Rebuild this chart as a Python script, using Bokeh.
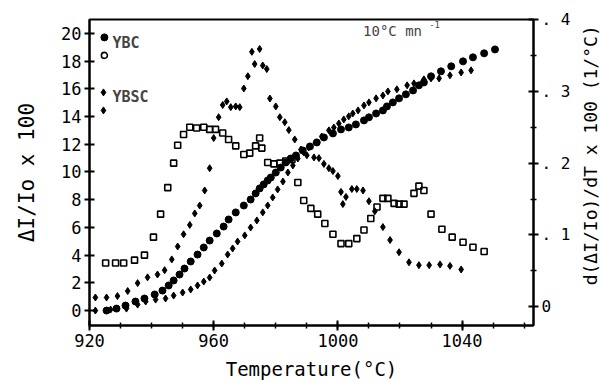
import math
from bokeh.plotting import figure
from bokeh.layouts import row
from bokeh.models import Range1d, LinearAxis, SingleIntervalTicker, FixedTicker, Label
from bokeh.core.properties import value
from bokeh.embed import file_html
from bokeh.resources import INLINE

# ---- data ----
# YBC: cumulative expansion (left axis, filled circles)
ybc_T = [925.5, 928.7, 931.6, 934.8, 937.7, 941.0, 943.5, 945.5, 947.1, 949.0, 950.6, 952.6,
         954.8, 956.8, 958.7, 961.0, 963.2, 964.8, 967.1, 969.7, 971.9, 973.5, 974.8, 976.1,
         977.4, 978.4, 980.0, 981.6, 983.2, 984.8, 986.5, 988.7, 991.0, 993.2, 995.5, 998.4,
         1001.0, 1003.5, 1005.8, 1008.4, 1010.0, 1012.3, 1014.5, 1015.8, 1017.7, 1019.7,
         1021.9, 1024.2, 1026.1, 1027.7, 1030.0, 1033.2, 1036.5, 1040.3, 1043.5, 1047.1, 1050.6]
ybc_cum = [0.00, 0.14, 0.36, 0.65, 0.87, 1.16, 1.44, 1.81, 2.17, 2.60, 3.03, 3.54, 4.04, 4.55,
           5.05, 5.56, 6.06, 6.57, 7.08, 7.58, 8.01, 8.45, 8.81, 9.10, 9.39, 9.60, 9.96, 10.32,
           10.69, 10.97, 11.19, 11.55, 11.84, 12.13, 12.49, 12.78, 13.07, 13.21, 13.43, 13.72,
           13.94, 14.22, 14.44, 14.73, 15.02, 15.31, 15.60, 15.88, 16.25, 16.46, 16.90, 17.26,
           17.62, 17.98, 18.27, 18.56, 18.84]

# YBSC: cumulative expansion (left axis, small filled diamonds)
ybsc_T = [921.9, 926.8, 931.9, 935.5, 938.1, 941.3, 944.5, 947.1, 950.0, 952.6, 954.8, 956.8,
          958.7, 960.3, 962.6, 964.5, 966.1, 967.7, 970.0, 971.9, 973.9, 975.8, 977.4, 979.0,
          980.6, 982.3, 983.9, 985.5, 987.1, 989.0, 990.6, 992.9, 994.8, 997.1, 998.7, 1000.3,
          1001.9, 1003.5, 1004.8, 1006.5, 1008.4, 1010.0, 1012.3, 1014.5, 1016.1, 1019.0,
          1022.3, 1024.5, 1027.7, 1030.0, 1032.6, 1036.1, 1039.7, 1042.9]
ybsc_cum = [0.00, 0.07, 0.14, 0.43, 0.65, 0.79, 0.87, 1.08, 1.30, 1.52, 1.81, 2.09, 2.38, 2.89,
            3.39, 4.04, 4.48, 4.98, 5.42, 5.99, 6.50, 7.08, 7.58, 8.16, 8.74, 9.31, 9.96, 10.47,
            10.97, 11.41, 11.77, 12.13, 12.56, 13.00, 13.21, 13.50, 13.79, 14.01, 14.22, 14.44,
            14.80, 15.02, 15.31, 15.52, 15.81, 15.96, 16.25, 16.39, 16.68, 16.75, 16.75, 16.97,
            17.18, 17.33]

# YBC: derivative (right axis, open squares)
ybcd_T = [925.2, 928.4, 931.0, 934.5, 937.7, 940.6, 942.9, 945.2, 947.1, 948.4, 950.3, 952.3,
          954.5, 956.8, 958.7, 960.6, 962.9, 964.8, 967.1, 969.7, 971.6, 973.5, 974.8, 975.5,
          977.4, 979.4, 981.3, 983.2, 985.2, 987.1, 989.0, 991.3, 993.5, 995.8, 998.4, 1001.0,
          1003.5, 1006.1, 1008.4, 1010.6, 1012.6, 1014.5, 1016.1, 1018.1, 1019.7, 1021.3,
          1024.5, 1026.1, 1027.7, 1030.0, 1033.5, 1036.8, 1040.3, 1043.5, 1047.1]
ybcd_v = [0.061, 0.061, 0.061, 0.065, 0.072, 0.097, 0.129, 0.166, 0.200, 0.225, 0.240, 0.250,
          0.249, 0.250, 0.247, 0.247, 0.242, 0.233, 0.224, 0.212, 0.214, 0.224, 0.235, 0.221,
          0.201, 0.199, 0.200, 0.203, 0.205, 0.173, 0.148, 0.137, 0.129, 0.116, 0.101, 0.088,
          0.088, 0.095, 0.107, 0.123, 0.139, 0.151, 0.151, 0.144, 0.143, 0.143, 0.158, 0.168,
          0.162, 0.129, 0.108, 0.097, 0.090, 0.083, 0.077]

# YBSC: derivative (right axis, small filled diamonds)
ybscd_T = [921.9, 925.5, 929.0, 932.3, 935.5, 938.7, 941.9, 944.2, 946.5, 948.4, 950.3, 952.3,
           953.9, 955.5, 957.1, 958.7, 960.0, 961.6, 962.9, 964.2, 965.5, 967.1, 968.4, 969.7,
           971.0, 972.3, 973.2, 974.8, 975.8, 977.1, 978.1, 980.0, 981.3, 982.9, 984.2, 986.1,
           988.1, 990.0, 992.3, 993.9, 995.5, 997.1, 998.4, 1000.0, 1001.0, 1001.6, 1002.6,
           1004.5, 1006.1, 1008.1, 1010.0, 1011.9, 1014.5, 1016.8, 1019.7, 1022.9, 1026.1,
           1029.4, 1032.9, 1036.1, 1039.7]
ybscd_v = [0.013, 0.013, 0.015, 0.022, 0.033, 0.041, 0.045, 0.051, 0.066, 0.084, 0.101, 0.114,
           0.130, 0.141, 0.162, 0.193, 0.235, 0.264, 0.281, 0.286, 0.278, 0.279, 0.278, 0.304,
           0.321, 0.355, 0.338, 0.359, 0.336, 0.331, 0.290, 0.279, 0.264, 0.257, 0.246, 0.233,
           0.219, 0.211, 0.208, 0.207, 0.199, 0.193, 0.189, 0.182, 0.160, 0.143, 0.153, 0.164,
           0.164, 0.162, 0.147, 0.133, 0.111, 0.093, 0.076, 0.062, 0.058, 0.058, 0.059, 0.057,
           0.052]

left_ticks = [0, 2, 4, 6, 8, 10, 12, 14, 16, 18, 20]
right_ticks = [0, 0.1, 0.2, 0.3, 0.4]
right_minor = [0.05, 0.15, 0.25, 0.35]
right_labels = ["0", ". 1", ". 2", ". 3", ". 4"]
right_title = "d(ΔI/Io)/dT x 100 (1/°C)"

FONT = "DejaVu Sans Mono"

p = figure(width=577, height=383, output_backend="svg", toolbar_location=None,
           x_range=Range1d(920, 1063), y_range=Range1d(-1.08, 21.0),
           min_border_left=89, min_border_right=44, min_border_top=19, min_border_bottom=58)
p.extra_y_ranges = {"d": Range1d(-0.026, 0.4)}
p.grid.visible = False
p.outline_line_color = "black"
p.outline_line_width = 2
p.background_fill_color = "white"
p.border_fill_color = "white"


def style_axis(ax, size="17px"):
    ax.axis_line_width = 2
    ax.axis_line_color = "black"
    ax.major_tick_line_width = 2
    ax.major_tick_in = 5
    ax.major_tick_out = 5
    ax.minor_tick_line_width = 1.5
    ax.minor_tick_in = 3
    ax.minor_tick_out = 3
    ax.major_label_text_font = FONT
    ax.major_label_text_font_size = size
    ax.major_label_text_color = "black"
    ax.major_label_standoff = 3
    ax.axis_label_text_font = FONT
    ax.axis_label_text_font_style = "normal"
    ax.axis_label_text_color = "black"


xa = p.xaxis[0]
xa.ticker = SingleIntervalTicker(interval=40, num_minor_ticks=4)
style_axis(xa)
xa.axis_label = "Temperature(°C)"
xa.axis_label_text_font_size = "19px"
xa.axis_label_standoff = 8

ya = p.yaxis[0]
ya.ticker = FixedTicker(ticks=left_ticks)
style_axis(ya)
ya.minor_tick_line_color = None
ya.axis_label = "ΔI/Io x 100"
ya.axis_label_text_font_size = "21px"
ya.axis_label_standoff = 19

ra = LinearAxis(y_range_name="d", ticker=FixedTicker(ticks=right_ticks, minor_ticks=right_minor))
style_axis(ra, "16px")
ra.major_label_overrides = {t: s for t, s in zip(right_ticks, right_labels)}
p.add_layout(ra, "right")

# data marks
p.scatter(ybcd_T, ybcd_v, y_range_name="d", marker="square", size=6,
          fill_color=None, line_color="black", line_width=1.6)
p.scatter(ybscd_T, ybscd_v, y_range_name="d", marker="diamond", size=7,
          color="black")
p.scatter(ybsc_T, ybsc_cum, marker="diamond", size=7, color="black")
p.scatter(ybc_T, ybc_cum, marker="circle", size=7, color="black")

# legend (drawn like the original: two symbols per sample)
leg_x = [924.8, 924.8, 924.5, 924.5]
leg_y = [19.71, 18.41, 15.74, 14.44]
p.scatter(leg_x[0:1], leg_y[0:1], marker="circle", size=7, color="black")
p.scatter(leg_x[1:2], leg_y[1:2], marker="circle", size=6, fill_color=None,
          line_color="black", line_width=1.6)
p.scatter(leg_x[2:4], leg_y[2:4], marker="diamond", size=7, color="black")
for txt, yy in [("YBC", 19.28), ("YBSC", 15.38)]:
    p.add_layout(Label(x=927.4, y=yy, text=txt, text_font=FONT, text_font_size="15px",
                       text_font_style="bold", text_baseline="middle", text_align="left"))

p.add_layout(Label(x=1008.1, y=20.2, text="10°C mn", text_font=FONT, text_font_size="14px",
                   text_baseline="middle", text_align="left"))
p.add_layout(Label(x=1029.4, y=20.65, text="-1", text_font=FONT, text_font_size="9px",
                   text_baseline="middle", text_align="left"))

# narrow strip at the right holding the right-hand axis title (reads bottom to top)
p2 = figure(width=24, height=383, output_backend="svg", toolbar_location=None,
            x_range=Range1d(0, 24), y_range=Range1d(0, 383),
            x_axis_type=None, y_axis_type=None,
            min_border_left=0, min_border_right=0, min_border_top=0, min_border_bottom=0)
p2.grid.visible = False
p2.outline_line_color = None
p2.background_fill_color = "white"
p2.border_fill_color = "white"
p2.text(x=[13], y=[213], text=[right_title], angle=math.pi / 2,
        text_align="center", text_baseline="middle",
        text_font=value(FONT), text_font_size="18px", text_color="black")

open("out.html", "w").write(file_html(row(p, p2), INLINE))
